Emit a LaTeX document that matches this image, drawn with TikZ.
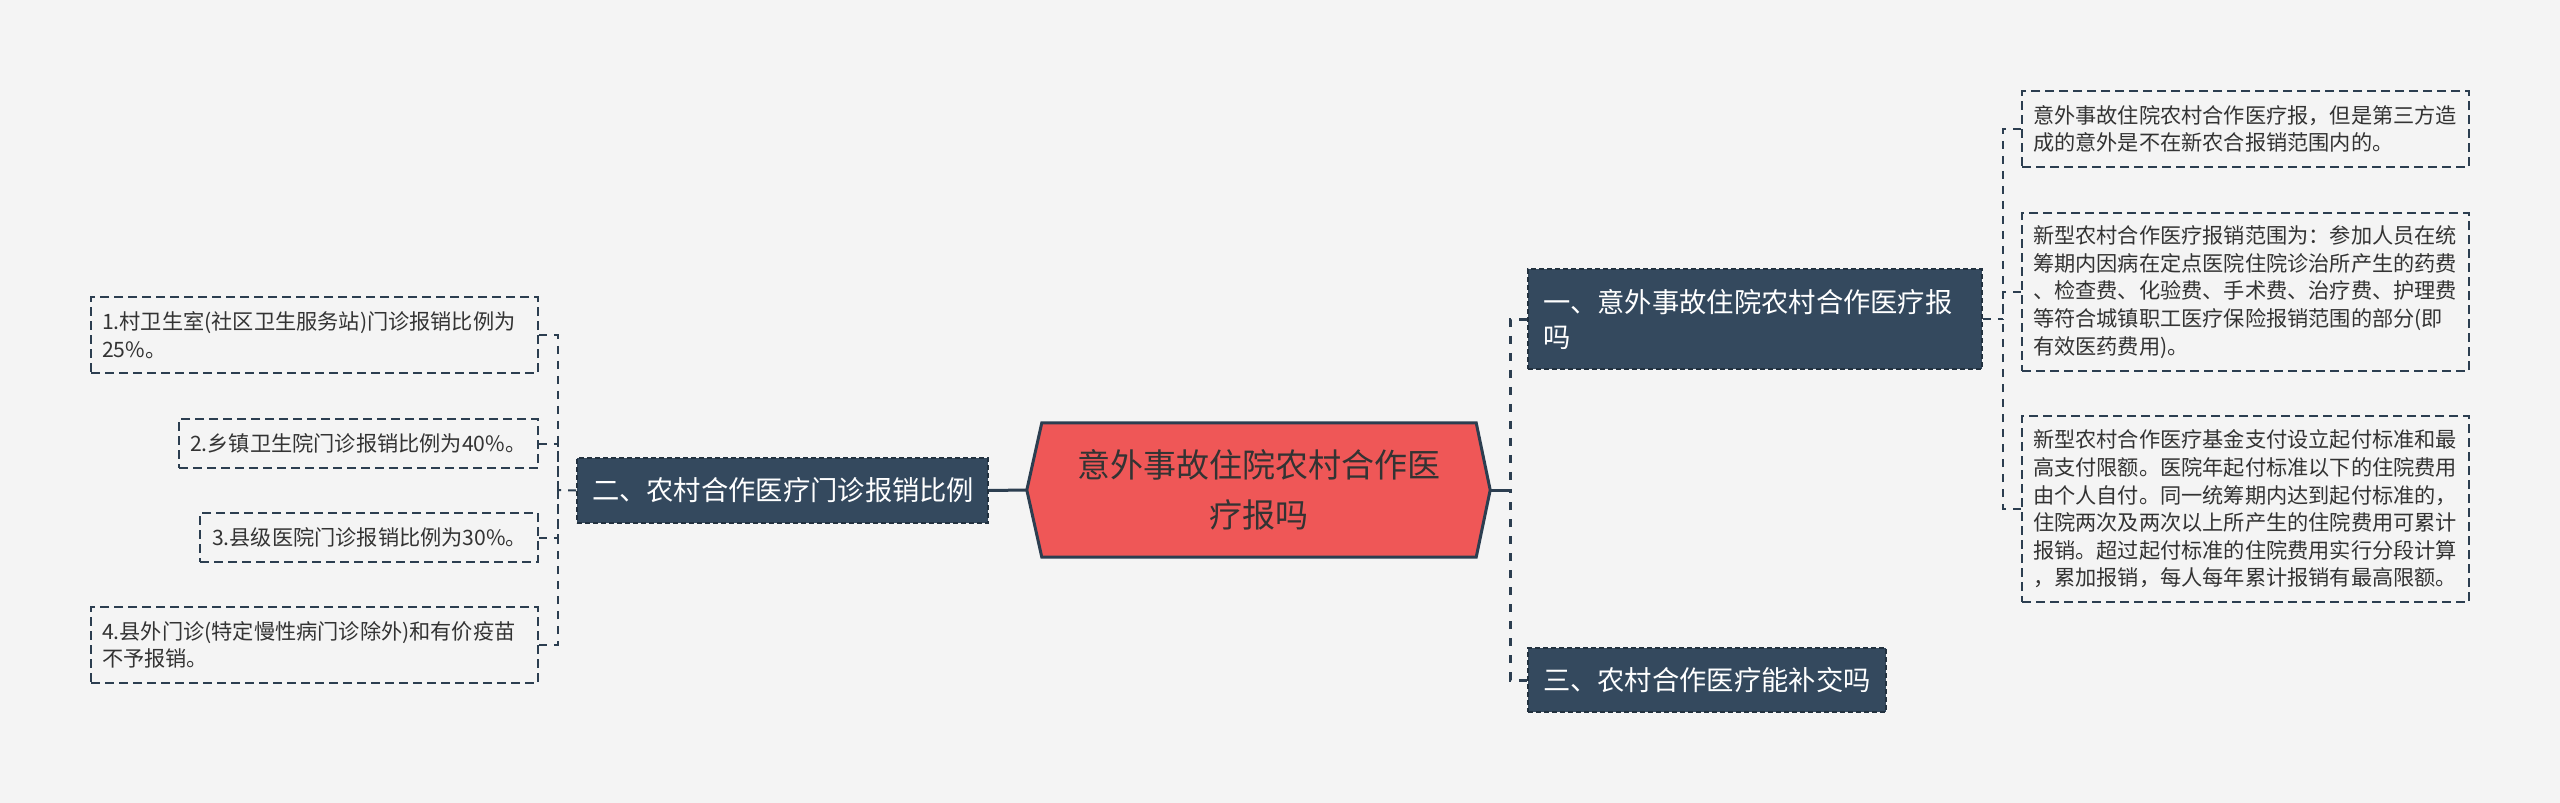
\documentclass[tikz,border=0pt]{standalone}
\usepackage{fontspec}
\setmainfont{Noto Sans CJK SC}
\usetikzlibrary{backgrounds}
\definecolor{bgc}{HTML}{F4F4F4}
\definecolor{navy}{HTML}{2C3E50}
\definecolor{rootred}{HTML}{EF5757}
\definecolor{branchfill}{HTML}{34495E}
\definecolor{branchline}{HTML}{22313F}
\definecolor{txt}{HTML}{333333}
\tikzset{
  rootbox/.style={minimum width=434pt, minimum height=134pt, inner sep=0pt, align=center,
    text=txt, font=\fontsize{33}{50}\selectfont},
  rootshape/.style={fill=rootred, draw=navy, line width=3pt, line join=miter},
  branchbox/.style={fill=branchfill, draw=branchline, line width=1.6pt, dash pattern=on 5pt off 3pt,
    text=white, align=left, inner xsep=15pt, inner ysep=0pt, font=\fontsize{27.3}{35}\selectfont},
  childbox/.style={fill=bgc, draw=navy, line width=1.7pt, dash pattern=on 9pt off 5pt,
    text=txt, align=left, inner xsep=11pt, inner ysep=0pt, font=\fontsize{21.2}{27.6}\selectfont},
  mainline/.style={draw=navy, line width=3pt},
  rootconn/.style={draw=navy, line width=3pt, dash pattern=on 8pt off 9pt},
  childconn/.style={draw=navy, line width=2pt, dash pattern=on 8pt off 7pt},
}
\begin{document}
\begin{tikzpicture}[x=1pt,y=-1pt]
\useasboundingbox (0,0) rectangle (2560,803);
\begin{pgfonlayer}{background}
\fill[bgc] (0,0) rectangle (2560,803);
\end{pgfonlayer}

% root
\node[rootbox] (root) at (1259,490) {意外事故住院农村合作医\\疗报吗};
\coordinate (rootL) at ([xshift=-15pt]root.west);
\coordinate (rootR) at ([xshift=14pt]root.east);
\begin{pgfonlayer}{background}
\path[rootshape] (root.north west) -- (root.north east) -- (rootR) -- (root.south east)
  -- (root.south west) -- (rootL) -- cycle;
\end{pgfonlayer}

% branches
\node[branchbox, text width=424pt, minimum height=100pt] (b1) at (1755,319)
  {一、意外事故住院农村合作医疗报\\吗};
\node[branchbox, text width=381pt, minimum height=65pt] (b2) at (782.5,490.5)
  {二、农村合作医疗门诊报销比例};
\node[branchbox, text width=328pt, minimum height=64pt] (b3) at (1707,680)
  {三、农村合作医疗能补交吗};

% right children
\node[childbox, text width=425pt, minimum height=76pt] (cA) at (2245.5,129)
  {意外事故住院农村合作医疗报，但是第三方造\\成的意外是不在新农合报销范围内的。};
\node[childbox, text width=425pt, minimum height=158pt] (cB) at (2245.5,292)
  {新型农村合作医疗报销范围为：参加人员在统\\筹期内因病在定点医院住院诊治所产生的药费\\、检查费、化验费、手术费、治疗费、护理费\\等符合城镇职工医疗保险报销范围的部分(即\\有效医药费用)。};
\node[childbox, text width=425pt, minimum height=186pt] (cC) at (2245.5,509)
  {新型农村合作医疗基金支付设立起付标准和最\\高支付限额。医院年起付标准以下的住院费用\\由个人自付。同一统筹期内达到起付标准的，\\住院两次及两次以上所产生的住院费用可累计\\报销。超过起付标准的住院费用实行分段计算\\，累加报销，每人每年累计报销有最高限额。};

% left children
\node[childbox, text width=425pt, minimum height=76pt] (L1) at (314.5,335)
  {1.村卫生室(社区卫生服务站)门诊报销比例为\\25\%。};
\node[childbox, text width=337pt, minimum height=49pt] (L2) at (358.5,443.5)
  {2.乡镇卫生院门诊报销比例为40\%。};
\node[childbox, inner xsep=12pt, text width=314pt, minimum height=49pt] (L3) at (369,537.5)
  {3.县级医院门诊报销比例为30\%。};
\node[childbox, text width=425pt, minimum height=76pt] (L4) at (314.5,645)
  {4.县外门诊(特定慢性病门诊除外)和有价疫苗\\不予报销。};

% connectors
\coordinate (jR) at (1510,490);
\coordinate (jL) at (558,490);
\coordinate (jRR) at (2003,319);

\draw[mainline] (rootR) -- (jR);
\draw[rootconn] (b1.west) -| (jR);
\draw[rootconn] (b3.west) -| (jR);
\draw[mainline] (rootL) -- (b2.east);

\draw[childconn] (b2.west) -- (jL);
\draw[childconn] (L1.east) -| (jL);
\draw[childconn] (L2.east) -| (jL);
\draw[childconn] (L3.east) -| (jL);
\draw[childconn] (L4.east) -| (jL);

\draw[childconn] (b1.east) -- (jRR);
\draw[childconn] (cA.west) -| (jRR);
\draw[childconn] (cB.west) -| (jRR);
\draw[childconn] (cC.west) -| (jRR);
\end{tikzpicture}
\end{document}
